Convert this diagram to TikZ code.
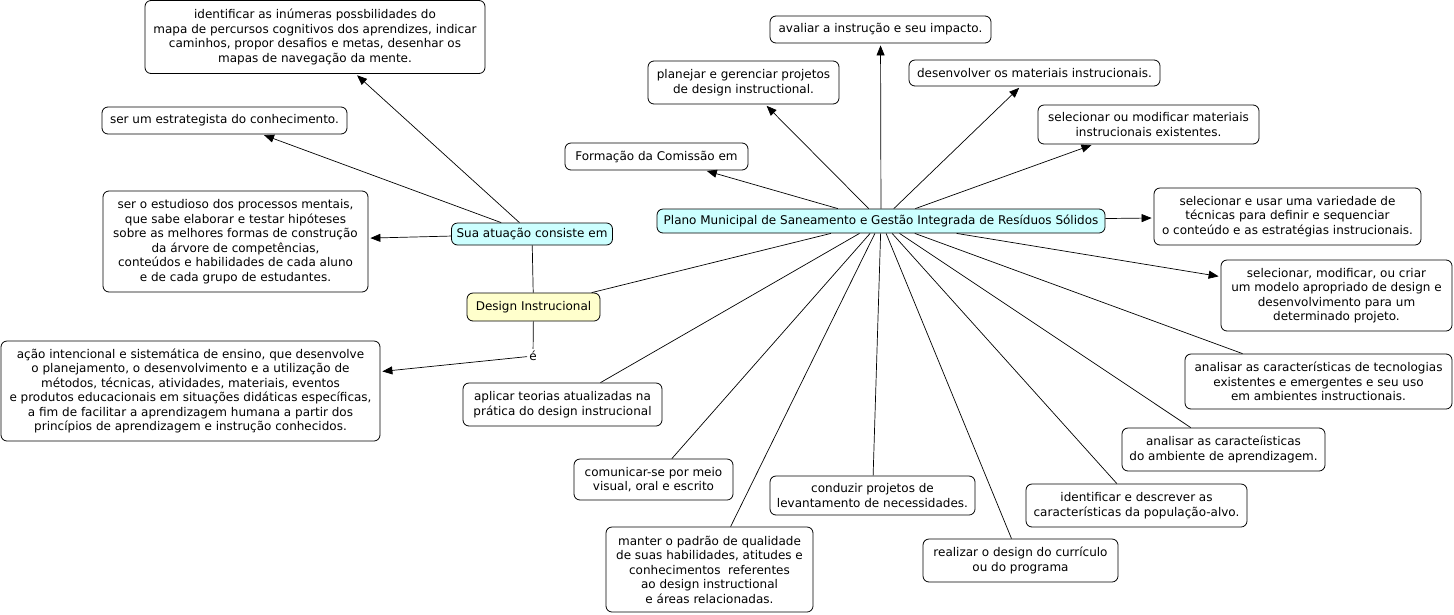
\documentclass[tikz,border=0pt]{standalone}
\usepackage{fontspec}
\setmainfont{DejaVu Sans}
\usetikzlibrary{arrows.meta}
\definecolor{cmcyan}{HTML}{CCFFFF}
\definecolor{cmyellow}{HTML}{FFFFCC}
\begin{document}
\begin{tikzpicture}[x=1pt,y=-1pt,
  box/.style={draw=black,line width=0.8pt,rounded corners=6pt,fill=white,
    inner sep=0pt,align=center,font=\fontsize{12}{14.5}\selectfont},
  cyanbox/.style={box,fill=cmcyan},
  yellowbox/.style={box,fill=cmyellow},
  conn/.style={draw=black,line width=0.7pt},
  arr/.style={conn,-{Triangle[length=10pt,width=8pt]},shorten >=2pt}]
\useasboundingbox (0,0) rectangle (1454,614);
% concepts
\node[box,minimum width=340pt,minimum height=73pt] (ident) at (315,37)
  {identificar as inúmeras possbilidades do\\mapa de percursos cognitivos dos aprendizes, indicar\\caminhos, propor desafios e metas, desenhar os\\mapas de navegação da mente.};
\node[box,minimum width=245pt,minimum height=27pt] (estrat) at (224.5,120.5)
  {ser um estrategista do conhecimento.};
\node[box,minimum width=265pt,minimum height=101pt] (estud) at (235.5,241.5)
  {ser o estudioso dos processos mentais,\\que sabe elaborar e testar hipóteses\\sobre as melhores formas de construção\\da árvore de competências,\\conteúdos e habilidades de cada aluno\\e de cada grupo de estudantes.};
\node[cyanbox,minimum width=161pt,minimum height=22pt] (sua) at (532,234)
  {Sua atuação consiste em};
\node[yellowbox,minimum width=133pt,minimum height=28pt] (di) at (533.5,307)
  {Design Instrucional};
\node[inner sep=2pt,font=\fontsize{12}{14.5}\selectfont] (e) at (533,356) {é};
\node[box,minimum width=379pt,minimum height=100pt] (acao) at (190.5,391)
  {ação intencional e sistemática de ensino, que desenvolve\\o planejamento, o desenvolvimento e a utilização de\\métodos, técnicas, atividades, materiais, eventos\\e produtos educacionais em situações didáticas específicas,\\a fim de facilitar a aprendizagem humana a partir dos\\princípios de aprendizagem e instrução conhecidos.};
\node[box,minimum width=199pt,minimum height=43pt] (aplicar) at (562.5,404.5)
  {aplicar teorias atualizadas na\\prática do design instrucional};
\node[box,minimum width=159pt,minimum height=41pt] (comun) at (653.5,479.5)
  {comunicar-se por meio\\visual, oral e escrito};
\node[box,minimum width=207pt,minimum height=85pt] (manter) at (709.5,569.5)
  {manter o padrão de qualidade\\de suas habilidades, atitudes e\\conhecimentos\ \ referentes\\ao design instructional\\e áreas relacionadas.};
\node[box,minimum width=205pt,minimum height=39pt] (conduzir) at (872.5,495.5)
  {conduzir projetos de\\levantamento de necessidades.};
\node[box,minimum width=195pt,minimum height=43pt] (realizar) at (1020.5,560.5)
  {realizar o design do currículo\\ou do programa};
\node[box,minimum width=221pt,minimum height=43pt] (identpop) at (1136.5,505.5)
  {identificar e descrever as\\características da população-alvo.};
\node[box,minimum width=203pt,minimum height=43pt] (ambiente) at (1223.5,449.5)
  {analisar as caracteíisticas\\do ambiente de aprendizagem.};
\node[box,minimum width=267pt,minimum height=55pt] (tecno) at (1318.5,381.5)
  {analisar as características de tecnologias\\existentes e emergentes e seu uso\\em ambientes instructionais.};
\node[box,minimum width=231pt,minimum height=71pt] (criar) at (1336.5,295.5)
  {selecionar, modificar, ou criar\\um modelo apropriado de design e\\desenvolvimento para um\\determinado projeto.};
\node[box,minimum width=267pt,minimum height=57pt] (usar) at (1287.5,216.5)
  {selecionar e usar uma variedade de\\técnicas para definir e sequenciar\\o conteúdo e as estratégias instrucionais.};
\node[box,minimum width=221pt,minimum height=39pt] (modif) at (1148.5,124.5)
  {selecionar ou modificar materiais\\instrucionais existentes.};
\node[box,minimum width=251pt,minimum height=26pt] (desenv) at (1034.5,73)
  {desenvolver os materiais instrucionais.};
\node[box,minimum width=221pt,minimum height=27pt] (avaliar) at (880.5,29.5)
  {avaliar a instrução e seu impacto.};
\node[box,minimum width=191pt,minimum height=43pt] (planejar) at (743.5,82.5)
  {planejar e gerenciar projetos\\de design instructional.};
\node[box,minimum width=183pt,minimum height=27pt] (formacao) at (656.5,156.5)
  {Formação da Comissão em};
\node[cyanbox,minimum width=448pt,minimum height=24pt] (plano) at (881,221)
  {Plano Municipal de Saneamento e Gestão Integrada de Resíduos Sólidos};
% connectors
\draw[arr] (sua) -- (ident);
\draw[arr] (sua) -- (estrat);
\draw[arr] (sua) -- (estud);
\draw[conn] (di) -- (sua);
\draw[conn] (di) -- (e);
\draw[arr] (e) -- (acao);
\draw[conn] (plano) -- (di);
\draw[arr] (plano) -- (formacao);
\draw[arr] (plano) -- (planejar);
\draw[arr] (plano) -- (avaliar);
\draw[arr] (plano) -- (desenv);
\draw[arr] (plano) -- (modif);
\draw[arr] (plano) -- (usar);
\draw[arr] (plano) -- (criar);
\draw[conn] (plano) -- (tecno);
\draw[conn] (plano) -- (ambiente);
\draw[conn] (plano) -- (identpop);
\draw[conn] (plano) -- (realizar);
\draw[conn] (plano) -- (conduzir);
\draw[conn] (plano) -- (manter);
\draw[conn] (plano) -- (comun);
\draw[conn] (plano) -- (aplicar);
\end{tikzpicture}
\end{document}
